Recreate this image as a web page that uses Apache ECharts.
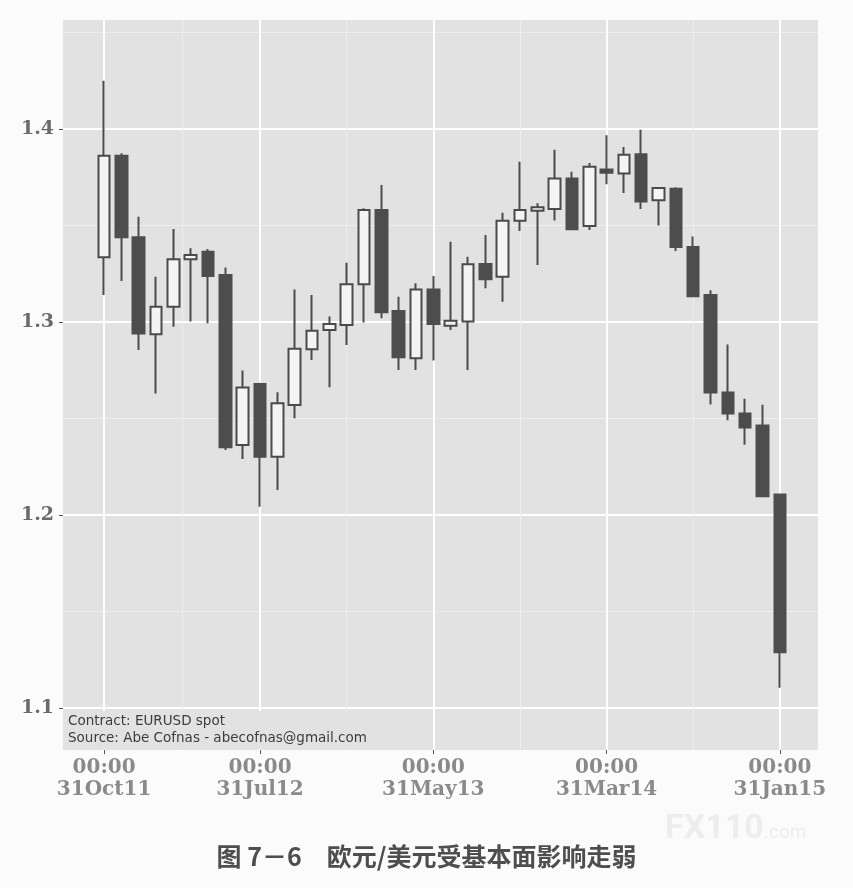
<!DOCTYPE html>
<html>
<head>
<meta charset="utf-8">
<script src="https://cdn.jsdelivr.net/npm/echarts@6/dist/echarts.min.js"></script>
<style>
html,body{margin:0;padding:0;background:#fbfbfb;}
#chart{width:853px;height:888px;}
</style>
</head>
<body>
<div id="chart"></div>
<script>
// Monthly EUR/USD candles, Oct 2011 - Jan 2015
const months = ['2011-10','2011-11','2011-12','2012-01','2012-02','2012-03','2012-04','2012-05','2012-06','2012-07',
  '2012-08','2012-09','2012-10','2012-11','2012-12','2013-01','2013-02','2013-03','2013-04','2013-05',
  '2013-06','2013-07','2013-08','2013-09','2013-10','2013-11','2013-12','2014-01','2014-02','2014-03',
  '2014-04','2014-05','2014-06','2014-07','2014-08','2014-09','2014-10','2014-11','2014-12','2015-01'];
const openV  = [1.3335,1.3862,1.3439,1.2936,1.3079,1.3325,1.3364,1.3244,1.2363,1.2679,
  1.2302,1.2570,1.2859,1.2959,1.2984,1.3195,1.3580,1.3057,1.2812,1.3169,
  1.2981,1.3002,1.3301,1.3235,1.3525,1.3577,1.3585,1.3744,1.3497,1.3790,
  1.3770,1.3869,1.3631,1.3691,1.3388,1.3140,1.2635,1.2526,1.2463,1.2106];
const closeV = [1.3862,1.3439,1.2941,1.3079,1.3325,1.3347,1.3238,1.2351,1.2660,1.2302,
  1.2579,1.2862,1.2955,1.2990,1.3195,1.3580,1.3050,1.2817,1.3169,1.2990,
  1.3007,1.3299,1.3221,1.3525,1.3580,1.3594,1.3744,1.3481,1.3804,1.3774,
  1.3867,1.3625,1.3695,1.3388,1.3134,1.2635,1.2526,1.2453,1.2097,1.1288];
const lowV   = [1.3140,1.3212,1.2855,1.2630,1.2976,1.3002,1.2993,1.2337,1.2290,1.2043,
  1.2130,1.2501,1.2803,1.2662,1.2881,1.2997,1.3019,1.2751,1.2751,1.2800,
  1.2959,1.2751,1.3175,1.3105,1.3472,1.3295,1.3526,1.3477,1.3477,1.3714,
  1.3669,1.3586,1.3500,1.3368,1.3130,1.2572,1.2491,1.2364,1.2095,1.1104];
const highV  = [1.4250,1.3875,1.3546,1.3235,1.3482,1.3382,1.3378,1.3283,1.2748,1.2685,
  1.2636,1.3169,1.3140,1.3028,1.3307,1.3589,1.3710,1.3131,1.3201,1.3238,
  1.3416,1.3338,1.3451,1.3566,1.3831,1.3615,1.3893,1.3778,1.3824,1.3968,
  1.3907,1.3996,1.3698,1.3698,1.3443,1.3164,1.2883,1.2602,1.2571,1.2106];
// x-axis ticks (month index) and their labels
const xTickIdx = [0, 9, 19, 29, 39];
const xTickLabels = ['00:00\n31Oct11','00:00\n31Jul12','00:00\n31May13','00:00\n31Mar14','00:00\n31Jan15'];
const xMinorIdx = [4.5, 14, 24, 34];
const yTicks = [1.1, 1.2, 1.3, 1.4];
const yMinor = [1.15, 1.25, 1.35, 1.45];

const candleData = months.map((m, i) => [i, openV[i], closeV[i], lowV[i], highV[i]]);

const chart = echarts.init(document.getElementById('chart'), null, {renderer: 'canvas'});
const xMin = -2.37, xMax = 41.2, yMin = 1.0782, yMax = 1.4565;
chart.setOption({
  backgroundColor: '#fbfbfb',
  animation: false,
  grid: {left: 63, right: 35, top: 20, bottom: 138, show: true, backgroundColor: '#e2e2e2', borderWidth: 0},
  xAxis: [{
    type: 'value', min: xMin, max: xMax,
    axisLine: {show: false, onZero: false},
    axisTick: {show: true, length: 4, lineStyle: {color: '#555', width: 1}, customValues: xTickIdx},
    axisLabel: {
      customValues: xTickIdx, margin: 7,
      formatter: v => xTickLabels[xTickIdx.indexOf(Math.round(v))] || '',
      fontFamily: 'DejaVu Serif', fontWeight: 'bold', fontSize: 20, lineHeight: 22, color: '#8a8a8a'
    },
    splitLine: {show: true, lineStyle: {color: '#ffffff', width: 2}, customValues: xTickIdx}
  }, {
    type: 'value', min: xMin, max: xMax, position: 'bottom',
    axisLine: {show: false, onZero: false}, axisLabel: {show: false},
    axisTick: {show: false, customValues: xMinorIdx},
    splitLine: {show: true, lineStyle: {color: '#eeeeee', width: 1}, customValues: xMinorIdx}
  }],
  yAxis: [{
    type: 'value', min: yMin, max: yMax,
    axisLine: {show: false, onZero: false},
    axisTick: {show: true, length: 4, lineStyle: {color: '#555', width: 1}, customValues: yTicks},
    axisLabel: {
      customValues: yTicks, margin: 9,
      formatter: v => v.toFixed(1),
      fontFamily: 'DejaVu Serif', fontWeight: 'bold', fontSize: 19, color: '#6a6a6a'
    },
    splitLine: {show: true, lineStyle: {color: '#ffffff', width: 2}, customValues: yTicks}
  }, {
    type: 'value', min: yMin, max: yMax, position: 'left',
    axisLine: {show: false, onZero: false}, axisLabel: {show: false},
    axisTick: {show: false, customValues: yMinor},
    splitLine: {show: true, lineStyle: {color: '#eeeeee', width: 1}, customValues: yMinor}
  }],
  series: [{
    type: 'candlestick',
    xAxisIndex: 0, yAxisIndex: 0,
    data: candleData,
    encode: {x: 0, y: [1, 2, 3, 4]},
    barWidth: 12,
    itemStyle: {
      color: '#f4f4f4', borderColor: '#4a4a4a',
      color0: '#4d4d4d', borderColor0: '#4d4d4d',
      borderWidth: 2
    }
  }],
  graphic: [
    {type: 'rect', z: 50, left: 64, top: 711, shape: {width: 312, height: 38}, style: {fill: '#e2e2e2'}},
    {type: 'text', z: 51, left: 68, top: 714, style: {text: 'Contract: EURUSD spot', font: '13.5px "DejaVu Sans"', fill: '#3c3c3c'}},
    {type: 'text', z: 51, left: 68, top: 731, style: {text: 'Source: Abe Cofnas - abecofnas@gmail.com', font: '13.5px "DejaVu Sans"', fill: '#3c3c3c'}},
    {type: 'text', z: 51, left: 665, top: 812, style: {text: 'FX110', font: 'bold 34px Roboto', fill: '#ededed'}},
    {type: 'text', z: 51, left: 764, top: 824, style: {text: '.com', font: '19px Roboto', fill: '#ededed'}},
    {type: 'text', z: 51, left: 'center', top: 844, style: {text: '图 7－6　欧元/美元受基本面影响走弱', font: 'bold 25px "Noto Sans CJK SC"', fill: '#4e4e4e'}}
  ]
});
</script>
</body>
</html>
